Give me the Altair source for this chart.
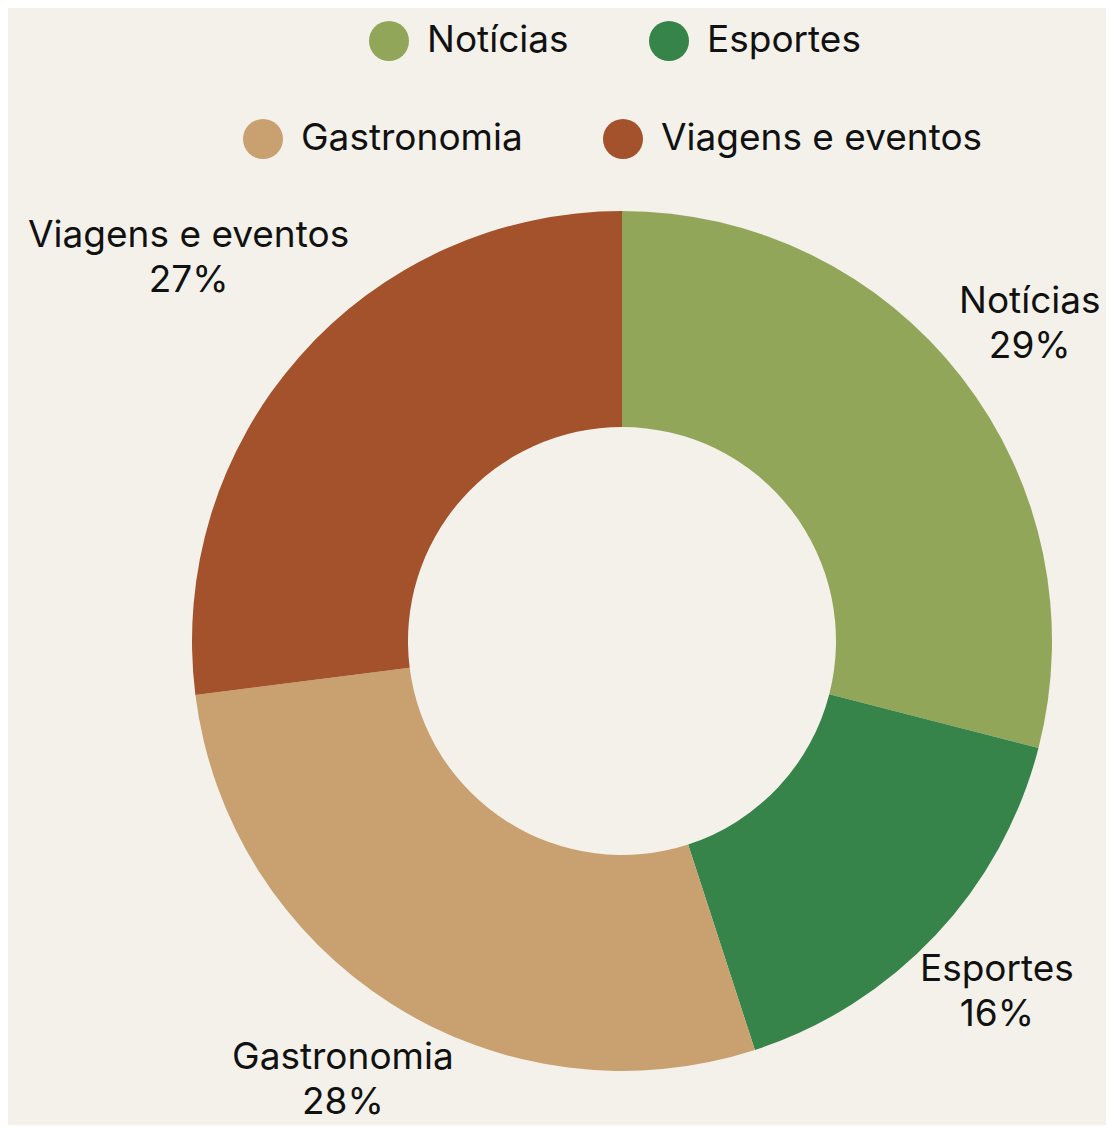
import altair as alt
import pandas as pd

categorias = ["Notícias", "Esportes", "Gastronomia", "Viagens e eventos"]
valores = [29, 16, 28, 27]
cores = ["#92A65A", "#36844A", "#C9A06F", "#A3522B"]

df = pd.DataFrame({"cat": categorias, "valor": valores, "ordem": list(range(len(categorias)))})

FONT = "Inter"
BG = "#F4F1EA"
CX, CY = 614, 633

escala = alt.Scale(domain=categorias, range=cores)

def legenda(vals, lx, ly):
    return alt.Legend(
        values=vals, orient="none", legendX=lx, legendY=ly, direction="horizontal",
        title=None, symbolType="circle", symbolSize=1600, symbolOpacity=1,
        symbolStrokeWidth=0, labelFont=FONT, labelFontSize=37, labelColor="#111111",
        labelOffset=18, columnPadding=80, padding=0, labelLimit=1000,
    )

base = alt.Chart(df)

arcos = base.mark_arc(outerRadius=430, innerRadius=214, stroke=None).encode(
    theta=alt.Theta("valor:Q", stack=True),
    order=alt.Order("ordem:Q"),
    color=alt.Color("cat:N", scale=escala, legend=legenda(categorias[:2], 361, 13)),
    x=alt.value(CX), y=alt.value(CY),
)

arcos2 = base.mark_arc(outerRadius=430, innerRadius=214, opacity=0).encode(
    theta=alt.Theta("valor:Q", stack=True),
    order=alt.Order("ordem:Q"),
    color=alt.Color("cat:N", scale=escala, legend=legenda(categorias[2:], 235, 111)),
    x=alt.value(CX), y=alt.value(CY),
)

rotulos = base.transform_window(
    acum="sum(valor)", sort=[alt.SortField("ordem")], frame=[None, 0]
).transform_joinaggregate(total="sum(valor)").transform_calculate(
    ang="2*PI*(datum.acum - datum.valor/2)/datum.total",
    label="datum.cat + '\\n' + datum.valor + '%'",
).transform_calculate(
    r="434 + abs(sin(datum.ang))*length(datum.cat)*9.3 + abs(cos(datum.ang))*38"
).mark_text(
    font=FONT, fontSize=37, color="#111111", lineBreak="\n", lineHeight=45,
    align="center", baseline="middle", dy=-23,
).encode(
    theta=alt.Theta("ang:Q", scale=None),
    radius=alt.Radius("r:Q", scale=None),
    text="label:N",
    x=alt.value(CX), y=alt.value(CY),
)

chart = alt.layer(arcos, arcos2, rotulos).resolve_scale(
    color="independent", theta="independent", radius="independent"
).properties(
    width=1098, height=1117, background=BG, padding=0,
    autosize=alt.AutoSizeParams(type="none"),
).configure_view(stroke=None)

chart.save("out.html", embed_options={"renderer": "svg", "actions": False})
